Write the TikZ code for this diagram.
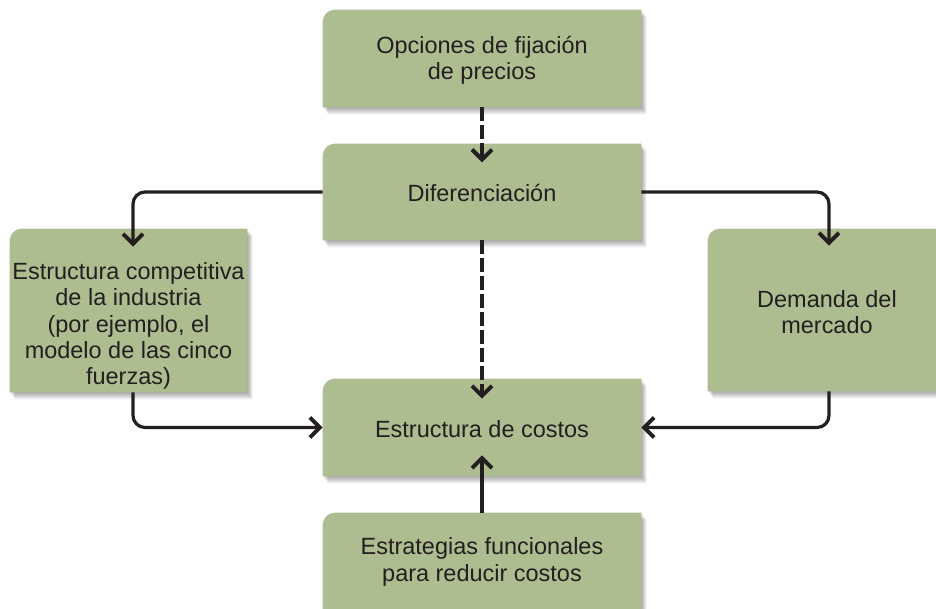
\documentclass[tikz,border=0pt]{standalone}
\usepackage{fontspec}
\setmainfont{Liberation Sans}
\usetikzlibrary{arrows.meta,backgrounds}
\definecolor{boxgreen}{RGB}{173,189,144}
\definecolor{ink}{RGB}{35,31,32}
\newcommand\gbpath[2]{([shift={#2}]#1.south west) [rounded corners=9pt] -- ([shift={#2}]#1.north west) [sharp corners] -- ([shift={#2}]#1.north east) -- ([shift={#2}]#1.south east) -- cycle}
\begin{document}
\begin{tikzpicture}[x=0.75pt,y=-0.75pt,
  box/.style={rectangle, inner sep=0pt, draw=none},
  lbl/.style={inner sep=0pt, align=center, text=ink, font=\fontsize{17.6pt}{19.8pt}\selectfont},
  conn/.style={draw=ink, line width=2.4pt, -{Straight Barb[length=7.5pt,width=15pt,line width=3pt]}},
  dashconn/.style={conn, dash pattern=on 10pt off 3.5pt},
]
\clip (0,0) rectangle (936,608);

\node[box, minimum width=238.5pt, minimum height=72.75pt] (op) at (482,58.5) {};
\node[box, minimum width=238.5pt, minimum height=72pt] (dif) at (482,192) {};
\node[box, minimum width=238.5pt, minimum height=72.75pt] (cost) at (482,427.5) {};
\node[box, minimum width=238.5pt, minimum height=72pt] (bot) at (482,561) {};
\node[box, minimum width=177.75pt, minimum height=122.25pt] (comp) at (128.5,310.5) {};
\node[box, minimum width=178.5pt, minimum height=121.5pt] (dem) at (827,310) {};

\begin{scope}[on background layer]
  \fill[white] (0,0) rectangle (936,608);
  \foreach \n in {op,dif,cost,bot,comp,dem}{
    \foreach \k in {1,...,7}{
      \fill[black, opacity=0.05] \gbpath{\n}{(\k*0.75,\k*1.0)};
    }
    \fill[boxgreen] \gbpath{\n}{(0,0)};
  }
\end{scope}

\node[lbl] (opT) at (482,60) {Opciones de fijación\\de precios};
\node[lbl] (difT) at (482,193) {Diferenciación};
\node[lbl] (costT) at (482,429) {Estructura de costos};
\node[lbl] (botT) at (482,562) {Estrategias funcionales\\para reducir costos};
\node[lbl] (compT) at (128.5,326) {Estructura competitiva\\de la industria\\(por ejemplo, el\\modelo de las cinco\\fuerzas)};
\node[lbl] (demT) at (827,312) {Demanda del\\mercado};

\coordinate (lx) at (133,0);
\coordinate (rx) at (829,0);

\draw[dashconn] (op.south) -- ([yshift=-14pt]dif.north);
\draw[dashconn] (dif.south) -- ([yshift=-15pt]cost.north);
\draw[conn] (bot.north) -- ([yshift=15.75pt]cost.south);
\draw[conn, rounded corners=9pt] (dif.west) -| ([yshift=-13.5pt]comp.north -| lx);
\draw[conn, rounded corners=9pt] (dif.east) -| ([yshift=-12.75pt]dem.north -| rx);
\draw[conn, rounded corners=9pt] (comp.south -| lx) |- (cost.west);
\draw[conn, rounded corners=9pt] (dem.south -| rx) |- (cost.east);
\end{tikzpicture}
\end{document}
